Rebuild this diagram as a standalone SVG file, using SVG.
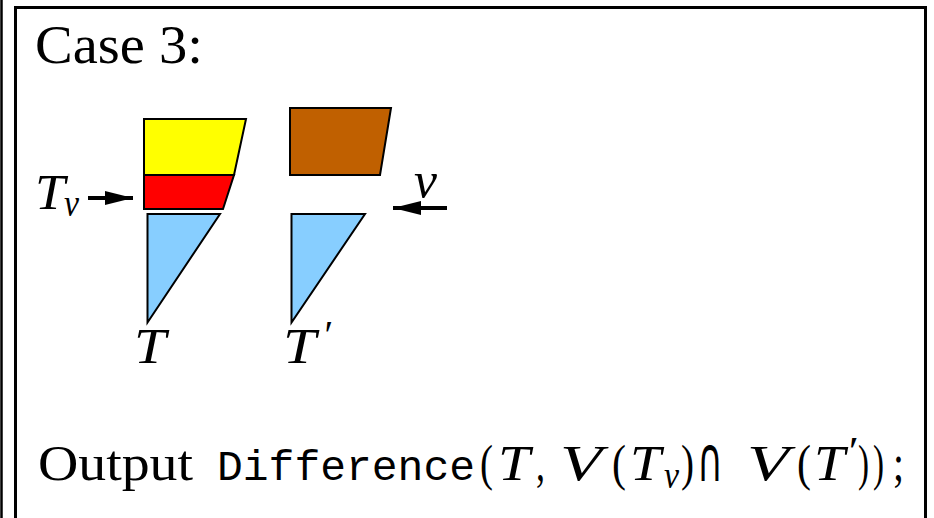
<svg xmlns="http://www.w3.org/2000/svg" width="934" height="518" viewBox="0 0 934 518">
<style>
.frame{stroke:#000;fill:none}
.shape{stroke:#000;stroke-width:2;stroke-linejoin:miter}
.rm{font-family:"Liberation Serif","Times New Roman",serif;fill:#000}
.it{font-family:"Liberation Serif","Times New Roman",serif;font-style:italic;fill:#000}
.tt{font-family:"Liberation Mono","Courier New",monospace;fill:#000}
.sym{font-family:"DejaVu Sans","Noto Sans",sans-serif;fill:#000}
.arrow{stroke:#000;stroke-width:4;fill:none}
</style>
<defs>
<marker id="head" markerUnits="userSpaceOnUse" markerWidth="30" markerHeight="14" refX="28" refY="7" orient="auto">
<path d="M0,0 L28,7 L0,14 Z" fill="#000"/>
</marker>
</defs>
<rect width="934" height="518" fill="#fff"/>
<g id="frame">
<line class="frame" x1="1.5" y1="0" x2="1.5" y2="518" stroke-width="2.5"/>
<line class="frame" x1="15.5" y1="6" x2="15.5" y2="518" stroke-width="3"/>
<line class="frame" x1="14" y1="7.5" x2="927" y2="7.5" stroke-width="3"/>
<line class="frame" x1="925.5" y1="6" x2="925.5" y2="518" stroke-width="3"/>
</g>
<g id="title"><text class="rm" x="35" y="63" font-size="54" textLength="168" lengthAdjust="spacingAndGlyphs">Case 3:</text></g>
<g id="T-top"><polygon class="shape" fill="#ffff00" points="144,119 246,119 234,175 144,175"/></g>
<g id="Tv"><polygon class="shape" fill="#ff0000" points="144,175 234,175 223,209 144,209"/></g>
<g id="T-tri"><polygon class="shape" fill="#87ceff" points="147.5,214 220,214 147.5,322.5"/></g>
<g id="Tp-top"><polygon class="shape" fill="#c06000" points="290,108 391,108 380,175 290,175"/></g>
<g id="Tp-tri"><polygon class="shape" fill="#87ceff" points="291.5,214 365,214 291.5,322.5"/></g>
<g id="connectors">
<line class="arrow" x1="88" y1="198" x2="133" y2="198" marker-end="url(#head)"/>
<line class="arrow" x1="447" y1="208" x2="393" y2="208" marker-end="url(#head)"/>
</g>
<g id="label-Tv"><text class="it" x="35" y="209" font-size="50" textLength="30" lengthAdjust="spacingAndGlyphs">T</text><text class="it" x="64" y="216" font-size="38" textLength="15" lengthAdjust="spacingAndGlyphs">v</text></g>
<g id="label-v"><text class="it" x="414" y="197" font-size="50" textLength="23" lengthAdjust="spacingAndGlyphs">v</text></g>
<g id="label-T"><text class="it" x="134" y="363" font-size="50" textLength="32" lengthAdjust="spacingAndGlyphs">T</text></g>
<g id="label-Tp"><text class="it" x="283" y="363" font-size="50" textLength="33" lengthAdjust="spacingAndGlyphs">T</text><text class="it" x="322" y="348" font-size="40">′</text></g>
<g id="output">
<text class="rm" x="38" y="480" font-size="50" textLength="155" lengthAdjust="spacingAndGlyphs">Output</text>
<text class="tt" x="217" y="480" font-size="43" textLength="258" lengthAdjust="spacingAndGlyphs">Difference</text>
<text class="rm" x="480" y="480" font-size="50" textLength="13" lengthAdjust="spacingAndGlyphs">(</text>
<text class="it" x="498" y="480" font-size="50" textLength="32" lengthAdjust="spacingAndGlyphs">T</text>
<text class="rm" x="536" y="480" font-size="50" textLength="9" lengthAdjust="spacingAndGlyphs">,</text>
<text class="it" x="560" y="480" font-size="50" textLength="42" lengthAdjust="spacingAndGlyphs">V</text>
<text class="rm" x="612" y="480" font-size="50" textLength="14" lengthAdjust="spacingAndGlyphs">(</text>
<text class="it" x="630" y="480" font-size="50" textLength="31" lengthAdjust="spacingAndGlyphs">T</text>
<text class="it" x="664" y="488" font-size="38" textLength="15" lengthAdjust="spacingAndGlyphs">v</text>
<text class="rm" x="681" y="480" font-size="50" textLength="13" lengthAdjust="spacingAndGlyphs">)</text>
<text class="sym" x="697" y="481" font-size="62" textLength="26" lengthAdjust="spacingAndGlyphs">∩</text>
<text class="it" x="747" y="480" font-size="50" textLength="42" lengthAdjust="spacingAndGlyphs">V</text>
<text class="rm" x="797" y="480" font-size="50" textLength="14" lengthAdjust="spacingAndGlyphs">(</text>
<text class="it" x="814" y="480" font-size="50" textLength="31" lengthAdjust="spacingAndGlyphs">T</text>
<text class="it" x="846" y="464" font-size="40" textLength="10" lengthAdjust="spacingAndGlyphs">′</text>
<text class="rm" x="858" y="480" font-size="50" textLength="11" lengthAdjust="spacingAndGlyphs">)</text>
<text class="rm" x="873" y="480" font-size="50" textLength="11" lengthAdjust="spacingAndGlyphs">)</text>
<text class="rm" x="893" y="480" font-size="50" textLength="11" lengthAdjust="spacingAndGlyphs">;</text>
</g>
</svg>
